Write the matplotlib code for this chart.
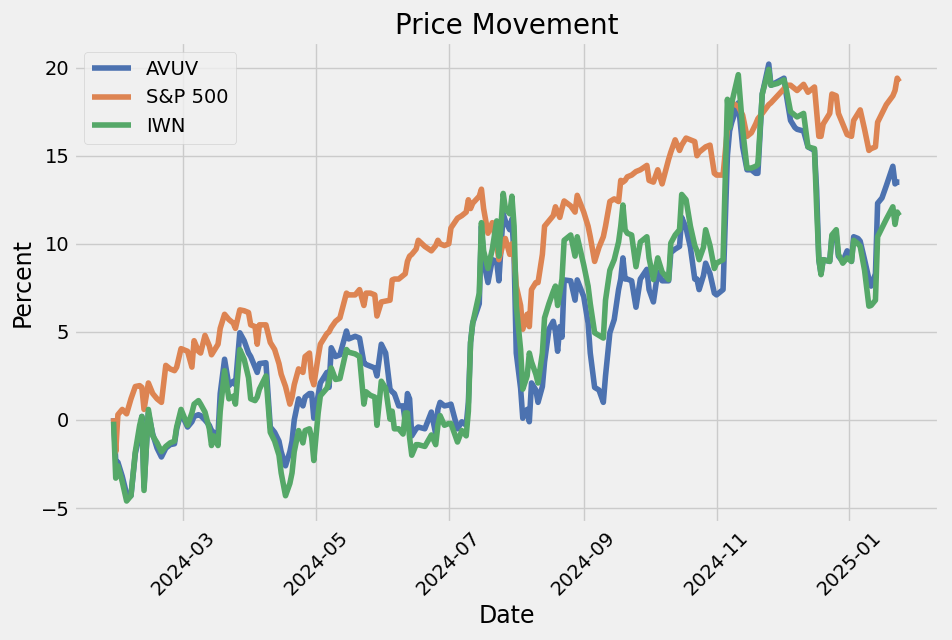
import matplotlib
matplotlib.use("Agg")

import pandas as pd
import matplotlib.pyplot as plt
import matplotlib.dates as mdates

# cumulative % change since start
dates = [
    "2024-01-29", "2024-01-30", "2024-01-31", "2024-02-02", "2024-02-04", "2024-02-06",
    "2024-02-08", "2024-02-10", "2024-02-11", "2024-02-12", "2024-02-14", "2024-02-16",
    "2024-02-18", "2024-02-20", "2024-02-22", "2024-02-24", "2024-02-26", "2024-02-27",
    "2024-02-29", "2024-03-03", "2024-03-05", "2024-03-06", "2024-03-08", "2024-03-09",
    "2024-03-11", "2024-03-13", "2024-03-14", "2024-03-15", "2024-03-17", "2024-03-18",
    "2024-03-20", "2024-03-22", "2024-03-24", "2024-03-25", "2024-03-27", "2024-03-29",
    "2024-03-31", "2024-04-01", "2024-04-03", "2024-04-04", "2024-04-05", "2024-04-08",
    "2024-04-10", "2024-04-12", "2024-04-14", "2024-04-15", "2024-04-17", "2024-04-19",
    "2024-04-20", "2024-04-21", "2024-04-23", "2024-04-25", "2024-04-26", "2024-04-28",
    "2024-04-29", "2024-04-30", "2024-05-02", "2024-05-03", "2024-05-06", "2024-05-07",
    "2024-05-08", "2024-05-10", "2024-05-12", "2024-05-15", "2024-05-16", "2024-05-19",
    "2024-05-21", "2024-05-23", "2024-05-24", "2024-05-26", "2024-05-28", "2024-05-29",
    "2024-05-31", "2024-06-02", "2024-06-04", "2024-06-05", "2024-06-06", "2024-06-08",
    "2024-06-10", "2024-06-11", "2024-06-12", "2024-06-13", "2024-06-14", "2024-06-16",
    "2024-06-17", "2024-06-20", "2024-06-23", "2024-06-25", "2024-06-26", "2024-06-27",
    "2024-06-29", "2024-07-01", "2024-07-02", "2024-07-05", "2024-07-07", "2024-07-09",
    "2024-07-10", "2024-07-11", "2024-07-12", "2024-07-15", "2024-07-16", "2024-07-17",
    "2024-07-19", "2024-07-21", "2024-07-23", "2024-07-24", "2024-07-26", "2024-07-27",
    "2024-07-29", "2024-07-30", "2024-07-31", "2024-08-01", "2024-08-03", "2024-08-04",
    "2024-08-06", "2024-08-07", "2024-08-08", "2024-08-10", "2024-08-11", "2024-08-13",
    "2024-08-14", "2024-08-16", "2024-08-18", "2024-08-19", "2024-08-20", "2024-08-21",
    "2024-08-22", "2024-08-23", "2024-08-26", "2024-08-28", "2024-08-29", "2024-09-01",
    "2024-09-03", "2024-09-04", "2024-09-06", "2024-09-08", "2024-09-10", "2024-09-11",
    "2024-09-13", "2024-09-15", "2024-09-17", "2024-09-18", "2024-09-19", "2024-09-20",
    "2024-09-21", "2024-09-23", "2024-09-25", "2024-09-27", "2024-09-30", "2024-10-01",
    "2024-10-03", "2024-10-05", "2024-10-07", "2024-10-10", "2024-10-11", "2024-10-13",
    "2024-10-15", "2024-10-16", "2024-10-18", "2024-10-20", "2024-10-22", "2024-10-23",
    "2024-10-24", "2024-10-26", "2024-10-27", "2024-10-29", "2024-10-31", "2024-11-01",
    "2024-11-04", "2024-11-06", "2024-11-07", "2024-11-08", "2024-11-11", "2024-11-13",
    "2024-11-15", "2024-11-17", "2024-11-19", "2024-11-20", "2024-11-22", "2024-11-25",
    "2024-11-26", "2024-11-29", "2024-12-02", "2024-12-03", "2024-12-05", "2024-12-07",
    "2024-12-08", "2024-12-11", "2024-12-13", "2024-12-16", "2024-12-17", "2024-12-18",
    "2024-12-19", "2024-12-20", "2024-12-23", "2024-12-24", "2024-12-26", "2024-12-27",
    "2024-12-29", "2024-12-31", "2025-01-02", "2025-01-03", "2025-01-05", "2025-01-06",
    "2025-01-08", "2025-01-10", "2025-01-11", "2025-01-13", "2025-01-14", "2025-01-16",
    "2025-01-18", "2025-01-21", "2025-01-22", "2025-01-23", "2025-01-24",
]

avuv = [
    0.1, -2.3, -2.4, -3.2, -4.2, -4.3,
    -1.9, -0.8, 0.2, -3.8, 0.4, -0.8,
    -1.6, -2.1, -1.6, -1.4, -1.35, -0.5,
    0.4, -0.4, -0.1, 0.2, 0.3, 0.25,
    0.0, -0.3, -0.6, -0.7, -0.8, 1.5,
    3.45, 1.95, 2.2, 2.0, 4.95, 4.5,
    3.8, 3.6, 3.0, 2.7, 3.2, 3.25,
    -0.4, -0.7, -1.2, -1.8, -2.6, -1.8,
    -1.2, 0.0, 1.2, 0.8, 1.3, 1.5,
    1.5, 0.1, 1.4, 2.1, 2.7, 1.85,
    4.1, 3.6, 3.7, 5.05, 4.6, 4.75,
    4.65, 3.25, 3.15, 3.05, 2.95, 2.5,
    4.3, 3.8, 1.75, 1.6, 1.5, 0.8,
    0.8, -0.1, 1.5, 1.2, -0.9, -0.5,
    -0.4, -0.5, 0.45, -0.8, 0.6, 1.0,
    0.8, 0.85, 0.9, -0.5, -0.1, -0.3,
    1.0, 4.4, 5.5, 6.6, 11.0, 9.0,
    7.8, 9.1, 9.0, 7.9, 11.7, 11.3,
    10.8, 11.4, 9.3, 3.8, 1.8, 0.1,
    0.6, -0.1, 2.1, 1.7, 1.0, 1.9,
    3.3, 5.15, 5.6, 5.0, 3.9, 5.3,
    4.7, 7.95, 7.9, 6.8, 7.95, 7.0,
    5.5, 3.8, 1.85, 1.7, 1.0, 2.5,
    4.95, 5.7, 7.4, 8.0, 9.2, 8.0,
    8.0, 7.9, 6.4, 8.0, 8.55, 7.4,
    6.7, 8.4, 7.9, 7.9, 9.5, 9.7,
    9.85, 11.5, 10.9, 9.8, 8.0, 8.0,
    7.4, 8.2, 8.9, 8.3, 7.2, 7.1,
    7.4, 15.0, 16.4, 16.9, 18.0, 15.5,
    14.2, 14.2, 14.0, 14.0, 18.5, 20.2,
    19.0, 19.2, 19.4, 18.5, 17.0, 16.6,
    16.5, 16.4, 15.5, 15.3, 13.0, 9.1,
    8.3, 9.1, 9.0, 10.4, 10.5, 9.3,
    9.0, 9.6, 9.0, 10.4, 10.3, 10.15,
    9.1, 8.0, 7.6, 8.3, 12.3, 12.6,
    13.3, 14.4, 13.4, 13.5, 13.5,
]

sp500 = [
    0.1, -1.8, 0.3, 0.6, 0.35, 1.2,
    1.9, 1.95, 1.85, 0.6, 2.1, 1.5,
    1.2, 1.0, 3.1, 2.9, 2.8, 3.0,
    4.05, 3.9, 3.0, 4.5, 3.9, 3.8,
    4.8, 4.2, 3.7, 3.9, 4.3, 5.2,
    6.0, 5.7, 5.5, 5.2, 6.25, 6.2,
    6.1, 5.4, 5.3, 4.3, 5.4, 5.4,
    4.4, 4.0, 3.2, 2.6, 1.9, 0.9,
    1.3, 2.0, 2.9, 2.7, 3.6, 3.8,
    2.4, 2.0, 3.6, 4.3, 4.9, 5.0,
    5.25, 5.6, 5.8, 7.2, 7.1, 7.1,
    7.4, 6.5, 7.2, 7.2, 7.1, 5.9,
    6.7, 6.75, 6.8, 7.95, 8.0, 8.0,
    8.2, 8.3, 9.0, 9.3, 9.4, 9.7,
    10.2, 9.85, 9.6, 9.9, 10.2, 10.0,
    9.9, 10.0, 10.9, 11.45, 11.6, 11.8,
    12.5, 12.0, 12.3, 12.7, 13.1, 12.0,
    10.6, 11.2, 10.0, 9.1, 10.0, 10.3,
    9.4, 10.0, 9.4, 7.6, 6.5, 5.15,
    6.0, 5.3, 7.4, 7.8, 7.8, 9.4,
    11.0, 11.3, 11.6, 12.1, 11.8, 11.5,
    12.0, 12.43, 12.15, 11.8, 12.75, 11.8,
    11.0, 10.4, 9.0, 9.8, 10.4, 11.0,
    12.4, 12.55, 12.4, 13.6, 13.5, 13.6,
    13.8, 13.9, 14.1, 14.2, 14.45, 13.6,
    13.5, 14.2, 13.4, 14.8, 15.2, 15.9,
    15.3, 15.6, 16.0, 15.9, 15.8, 15.0,
    15.2, 15.4, 15.5, 15.6, 14.0, 13.9,
    13.9, 16.5, 17.4, 18.0, 17.8, 17.3,
    16.1, 16.3, 16.8, 17.1, 17.4, 17.9,
    18.0, 18.4, 18.8, 19.0, 19.0, 18.8,
    18.7, 19.05, 18.6, 18.9, 17.5, 16.1,
    16.1, 16.8, 17.4, 18.5, 18.4, 17.4,
    16.8, 16.2, 16.1, 17.0, 17.4, 17.6,
    16.5, 15.3, 15.4, 15.5, 16.9, 17.4,
    17.9, 18.4, 18.7, 19.4, 19.2,
]

iwn = [
    -0.1, -3.3, -2.6, -3.5, -4.6, -4.3,
    -1.8, -0.3, 0.2, -4.0, 0.6, -0.9,
    -1.3, -1.8, -1.5, -1.3, -1.2, -0.4,
    0.6, -0.3, 0.4, 0.9, 1.1, 0.9,
    0.45, -0.5, -1.45, -0.9, -1.45, 0.5,
    2.8, 1.2, 1.35, 0.9, 4.0, 3.45,
    2.4, 1.2, 1.1, 1.3, 1.75, 2.5,
    -0.7, -1.2, -2.0, -3.0, -4.3, -3.6,
    -3.0, -1.8, -0.6, -1.3, -0.6, -0.5,
    -1.0, -2.3, 0.4, 1.37, 1.8, 2.2,
    2.95, 2.3, 2.35, 4.0, 3.85, 3.75,
    3.6, 0.9, 1.6, 1.4, 1.3, -0.3,
    2.2, 1.8, 0.05, 0.5, -0.5, -0.5,
    -0.8, 0.4, 0.4, -1.0, -2.0, -1.4,
    -1.4, -1.5, -0.85, -1.4, -0.3, 0.25,
    -0.3, -0.2, -0.2, -1.25, -0.6, -0.9,
    0.5, 4.4, 5.5, 7.2, 11.2, 9.6,
    8.6, 9.7, 11.3, 9.3, 12.86, 12.0,
    11.7, 12.7, 11.0, 6.5, 4.0, 1.75,
    2.5, 3.8, 3.3, 2.6, 2.1, 3.8,
    5.8, 6.6, 7.3, 7.6, 6.5, 7.2,
    8.0, 10.2, 10.5, 9.3, 10.4, 8.8,
    7.6, 6.6, 4.95, 4.8, 4.65, 6.8,
    8.5, 9.1, 10.1, 11.0, 12.2, 10.8,
    10.6, 10.5, 8.7, 10.1, 10.4, 9.2,
    7.97, 9.2, 8.4, 7.97, 10.04, 10.5,
    10.8, 12.8, 12.5, 11.0, 9.9, 9.6,
    9.1, 9.8, 10.8, 9.9, 8.6, 8.9,
    9.1, 18.2, 16.6, 18.0, 19.6, 16.5,
    14.3, 14.3, 14.4, 14.5, 18.5, 19.9,
    19.0, 19.1, 19.3, 18.8, 17.5, 17.3,
    17.2, 17.4, 15.5, 15.4, 12.0, 9.1,
    8.25, 9.1, 9.0, 10.5, 10.8, 9.4,
    8.9, 9.2, 9.0, 10.2, 10.0, 9.85,
    8.5, 6.46, 6.5, 6.8, 10.4, 10.9,
    11.4, 12.1, 11.1, 11.8, 11.6,
]

series_names = ["AVUV", "S&P 500", "IWN"]
colors = ["#4c72b0", "#dd8452", "#55a868"]

plt.style.use("fivethirtyeight")

x = pd.to_datetime(dates)

fig, ax = plt.subplots(figsize=(9.52, 6.4), dpi=100)
fig.patch.set_facecolor("#f0f0f0")

for name, vals, c in zip(series_names, [avuv, sp500, iwn], colors):
    ax.plot(x, vals, label=name, color=c, linewidth=4)

ax.set_title("Price Movement", fontsize=20)
ax.set_xlabel("Date", fontsize=17)
ax.set_ylabel("Percent", fontsize=17)
ax.set_yticks([-5, 0, 5, 10, 15, 20])

ax.xaxis.set_major_locator(mdates.MonthLocator(bymonth=[1, 3, 5, 7, 9, 11]))
ax.xaxis.set_major_formatter(mdates.DateFormatter("%Y-%m"))
plt.setp(ax.get_xticklabels(), rotation=45)
ax.tick_params(labelsize=14)

ax.legend(loc="upper left", fontsize=14, frameon=True)

fig.subplots_adjust(left=0.078, right=0.986, top=0.934, bottom=0.183)
plt.savefig("out.png", dpi=100)
plt.close()
